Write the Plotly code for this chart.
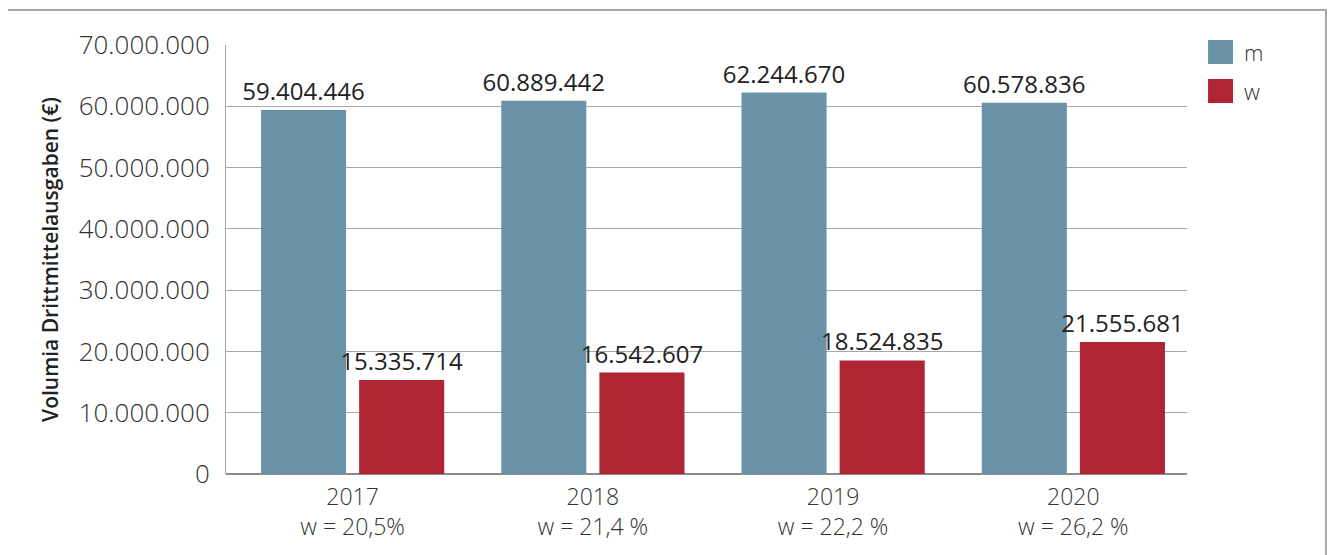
import plotly.graph_objects as go

years = ["2017", "2018", "2019", "2020"]
share_w = ["w = 20,5%", "w = 21,4 %", "w = 22,2 %", "w = 26,2 %"]
values_m = [59404446, 60889442, 62244670, 60578836]
values_w = [15335714, 16542607, 18524835, 21555681]
series = [("m", values_m, "#6b93a8"), ("w", values_w, "#b02533")]

categories = [f"{y}<br>{s}" for y, s in zip(years, share_w)]

fig = go.Figure()
for name, vals, color in series:
    fig.add_trace(
        go.Bar(
            x=categories,
            y=vals,
            name=name,
            marker=dict(color=color, line=dict(width=0)),
            texttemplate="%{y:,d}",
            textposition="outside",
            constraintext="none",
            cliponaxis=False,
            textfont=dict(family="Open Sans", size=24, color="#222222"),
        )
    )

# legend drawn by hand to get the large square swatches
legend_top = [1.0117, 0.9207]
for (name, vals, color), top in zip(series, legend_top):
    fig.add_shape(
        type="rect", xref="paper", yref="paper",
        x0=1.0219, x1=1.0479, y0=top - 0.056, y1=top,
        fillcolor=color, line_width=0,
    )
    fig.add_annotation(
        xref="paper", yref="paper", x=1.0573, y=top - 0.028,
        text=name, showarrow=False, xanchor="left", yanchor="middle",
        font=dict(family="Open Sans", size=22, color="#333333", weight=300),
    )

# outer frame
fig.add_shape(
    type="rect", xref="paper", yref="paper",
    x0=-0.230, x1=1.1446, y0=-0.25, y1=1.0816,
    line=dict(color="#a8a8a8", width=2), fillcolor="rgba(0,0,0,0)", layer="below",
)

fig.update_layout(
    width=1328,
    height=547,
    margin=dict(l=218, r=149, t=37, b=81),
    paper_bgcolor="white",
    plot_bgcolor="white",
    separators=",.",
    showlegend=False,
    barmode="group",
    bargap=0.183,
    bargroupgap=0.133,
    font=dict(family="Open Sans", color="#333333"),
)
fig.update_xaxes(
    range=[-0.527, 3.473],
    showline=False,
    showgrid=False,
    tickfont=dict(family="Open Sans", size=23, color="#333333", weight=300),
    ticks="",
    ticklabelstandoff=7,
)
fig.update_yaxes(
    range=[0, 70000000],
    dtick=10000000,
    tickformat=",d",
    showgrid=True,
    gridcolor="#a6a6a6",
    gridwidth=1,
    zeroline=True,
    zerolinecolor="#8c8c8c",
    zerolinewidth=2,
    showline=True,
    linecolor="#a6a6a6",
    linewidth=1,
    ticks="",
    ticklabelstandoff=10,
    tickfont=dict(family="Open Sans", size=26, color="#333333", weight=300),
    title=dict(
        text="Volumia Drittmittelausgaben (€)",
        font=dict(family="Open Sans", size=21, color="#222222", weight=600),
        standoff=14,
    ),
)

fig.write_html("out.html")
